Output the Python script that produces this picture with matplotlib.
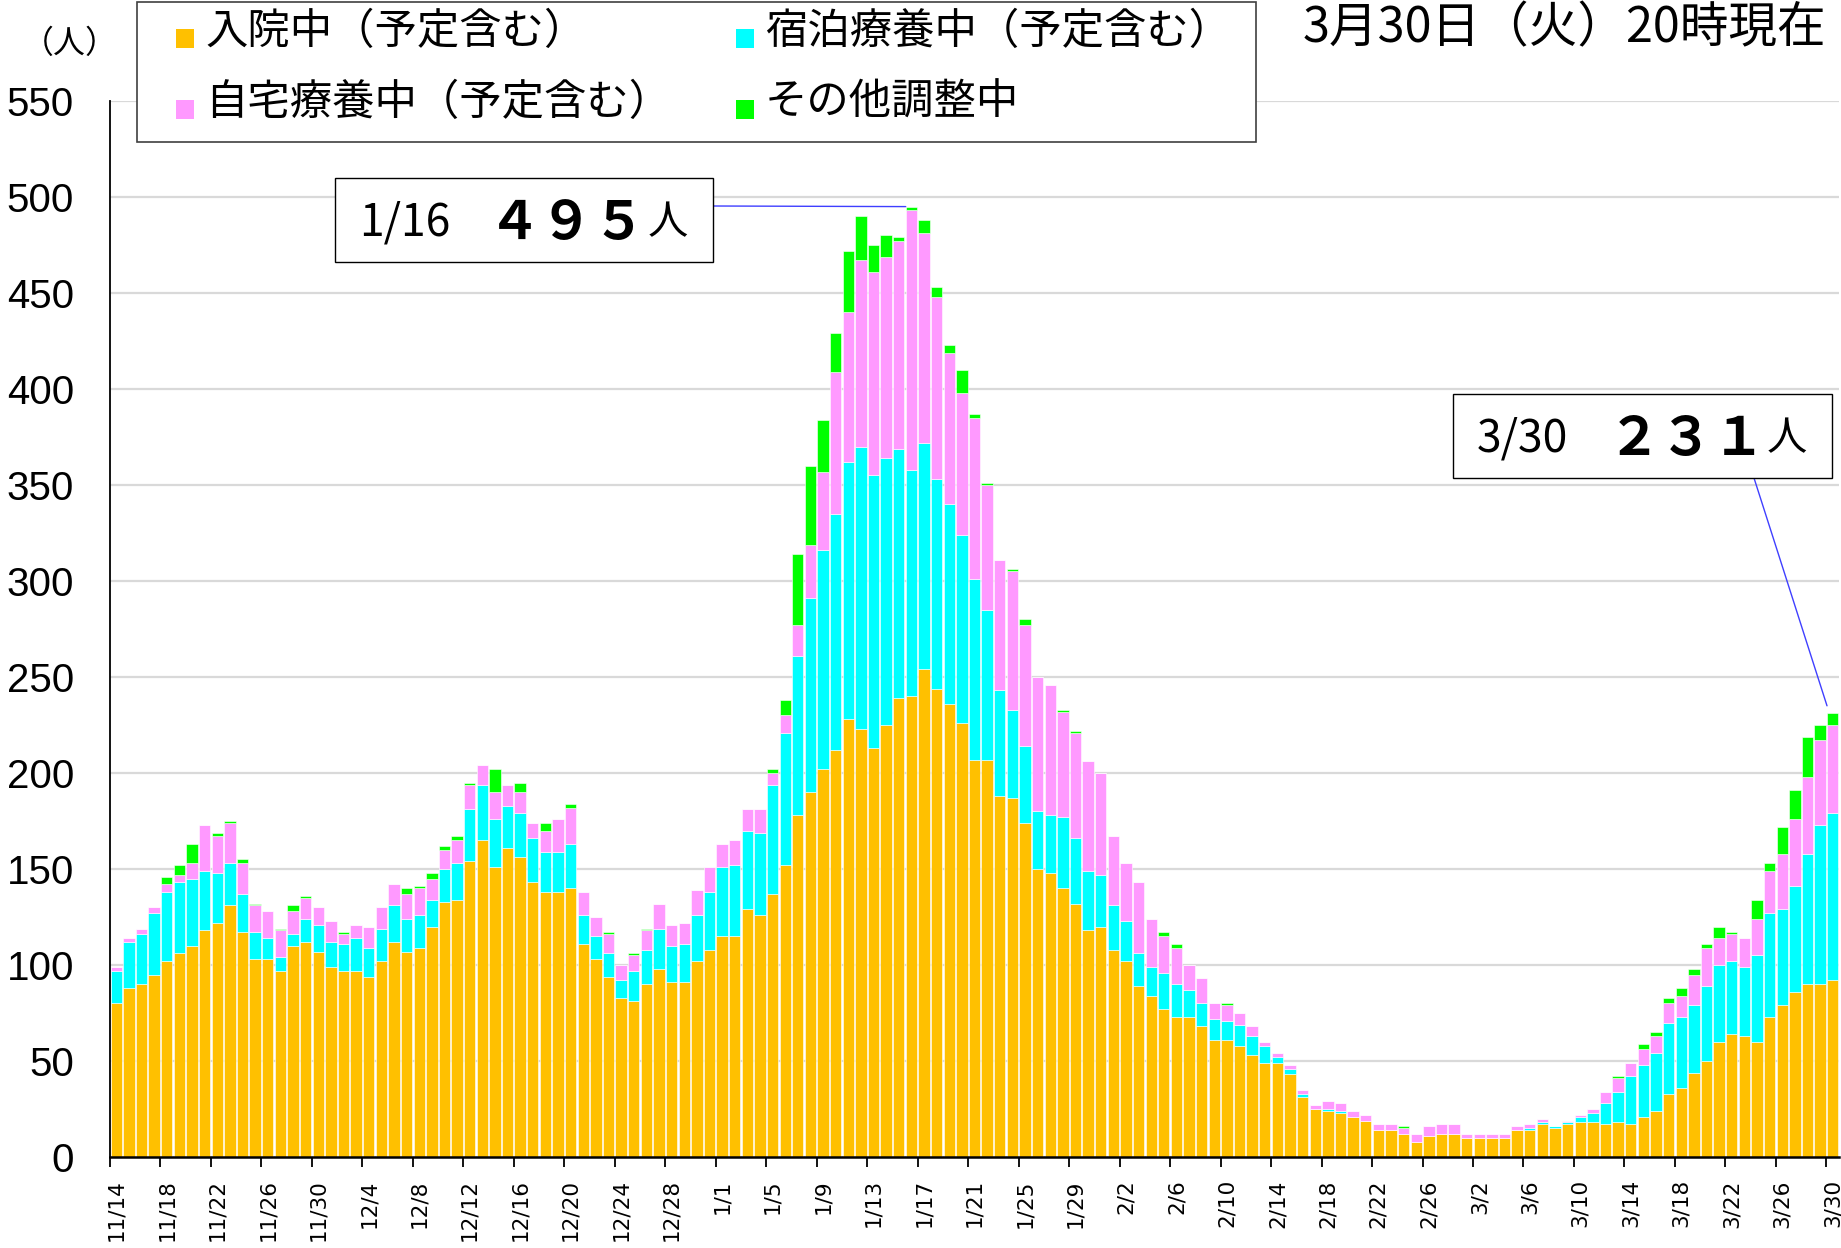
import matplotlib
matplotlib.use('Agg')
import matplotlib.pyplot as plt
from matplotlib.patches import Rectangle
import numpy as np
import pandas as pd

# 11/14 - 3/30 の日次データ
days = pd.date_range('2020-11-14', '2021-03-30', freq='D')
day_labels = [f'{d.month}/{d.day}' for d in days]

# 入院中（予定含む）
hospital = [
    80, 88, 90, 95, 102, 106, 110, 118, 122, 131, 117, 103, 103, 97, 110, 112, 107,
    99, 97, 97, 94, 102, 112, 107, 109, 120, 133, 134, 154, 165, 151, 161, 156, 143,
    138, 138, 140, 111, 103, 94, 83, 81, 90, 98, 91, 91, 102, 108,
    115, 115, 129, 126, 137, 152, 178, 190, 202, 212, 228, 223, 213, 225, 239, 240,
    254, 244, 236, 226, 207, 207, 188, 187, 174, 150, 148, 140, 132, 118, 120,
    108, 102, 89, 84, 77, 73, 73, 68, 61, 61, 58, 53, 49, 49, 43, 31, 25, 24, 23,
    21, 19, 14, 14, 12, 8, 11, 12, 12,
    10, 10, 10, 10, 14, 14, 17, 15, 17, 18, 18, 17, 18, 17, 21, 24, 33, 36, 44, 50,
    60, 64, 63, 60, 73, 79, 86, 90, 90, 92]
# 宿泊療養中（予定含む）
hotel = [
    17, 24, 26, 32, 36, 37, 35, 31, 26, 22, 20, 14, 11, 7, 6, 12, 14,
    13, 14, 17, 15, 17, 19, 17, 17, 14, 17, 19, 27, 29, 25, 22, 23, 23,
    21, 21, 23, 15, 12, 12, 9, 16, 18, 21, 19, 20, 24, 30,
    36, 37, 41, 43, 57, 69, 83, 101, 114, 123, 134, 147, 142, 139, 130, 118,
    118, 109, 104, 98, 94, 78, 55, 46, 40, 30, 30, 37, 34, 31, 27,
    23, 21, 17, 15, 19, 17, 14, 12, 11, 10, 11, 10, 9, 3, 3, 2, 0, 1, 1,
    0, 0, 0, 0, 0, 0, 0, 0, 0,
    0, 0, 0, 0, 0, 1, 1, 1, 1, 3, 5, 11, 16, 25, 27, 30, 37, 37, 35, 39,
    40, 38, 36, 45, 54, 50, 55, 68, 83, 87]
# 自宅療養中（予定含む）
home = [
    2, 2, 3, 3, 4, 4, 8, 24, 19, 21, 16, 14, 14, 14, 12, 11, 9,
    11, 5, 7, 11, 11, 11, 13, 14, 11, 10, 12, 13, 10, 14, 11, 11, 8,
    11, 17, 19, 12, 10, 10, 8, 8, 10, 13, 11, 11, 13, 13,
    12, 13, 11, 12, 6, 9, 16, 28, 41, 74, 78, 97, 106, 105, 108, 135,
    109, 95, 79, 74, 84, 65, 68, 72, 63, 70, 68, 55, 55, 57, 53,
    36, 30, 37, 25, 19, 19, 13, 13, 8, 8, 6, 5, 2, 2, 2, 2, 2, 4, 4,
    3, 3, 3, 3, 3, 4, 5, 5, 5,
    2, 2, 2, 2, 2, 2, 2, 0, 1, 1, 2, 6, 7, 7, 8, 9, 10, 11, 16, 20,
    14, 14, 15, 19, 22, 29, 35, 40, 44, 46]
# その他調整中
other = [
    0, 0, 0, 0, 4, 5, 10, 0, 2, 1, 2, 1, 0, 1, 3, 1, 0,
    0, 1, 0, 0, 0, 0, 3, 1, 3, 2, 2, 1, 0, 12, 0, 5, 0,
    4, 0, 2, 0, 0, 1, 0, 1, 1, 0, 0, 0, 0, 0,
    0, 0, 0, 0, 2, 8, 37, 41, 27, 20, 32, 23, 14, 11, 2, 2,
    7, 5, 4, 12, 2, 1, 0, 1, 3, 0, 0, 1, 1, 0, 0,
    0, 0, 0, 0, 2, 2, 0, 0, 0, 1, 0, 0, 0, 0, 0, 0, 0, 0, 0,
    0, 0, 0, 0, 1, 0, 0, 0, 0,
    0, 0, 0, 0, 0, 0, 0, 0, 0, 0, 0, 0, 1, 0, 3, 2, 3, 4, 3, 2,
    6, 1, 0, 10, 4, 14, 15, 21, 8, 6]

series_names = ['入院中（予定含む）', '宿泊療養中（予定含む）', '自宅療養中（予定含む）', 'その他調整中']
series_colors = ['#FFC000', '#00FFFF', '#FF99FF', '#00FF00']

W, H = 1841, 1248
JP = ['Noto Sans CJK JP', 'DejaVu Sans']
NUM = ['Liberation Sans Narrow', 'Liberation Sans', 'DejaVu Sans']


def fx(x):
    return x / W


def fy(y):
    return 1 - y / H


fig = plt.figure(figsize=(W / 100, H / 100), dpi=100)
ax = fig.add_axes([fx(110), 1 - 1157 / H, (1839 - 110) / W, (1157 - 101) / H])

x = np.arange(len(days))
bottom = np.zeros(len(days))
for vals, col, name in zip([hospital, hotel, home, other], series_colors, series_names):
    vals = np.array(vals, dtype=float)
    ax.bar(x, vals, bottom=bottom, width=0.9, color=col, edgecolor='white',
           linewidth=0.4, label=name, zorder=2)
    bottom += vals

ax.set_xlim(-0.5, len(days) - 0.5)
ax.set_ylim(0, 550)
ax.set_yticks(np.arange(0, 551, 50))
ax.yaxis.grid(True, color='#d9d9d9', linewidth=1.6, zorder=0)
ax.set_axisbelow(True)
for s in ['top', 'right']:
    ax.spines[s].set_visible(False)
ax.spines['left'].set_linewidth(1.3)
ax.spines['bottom'].set_linewidth(1.8)
ax.tick_params(axis='y', length=0, pad=26)
for t in ax.get_yticklabels():
    t.set_family(NUM)
    t.set_fontsize(29)

# 目盛線は4日ごとの境界、ラベルは棒の中心
ax.set_xticks(np.arange(-0.5, len(days), 4))
ax.set_xticklabels([])
ax.tick_params(axis='x', which='major', length=7, width=1.3, direction='out')
ax.set_xticks(x[::4], minor=True)
ax.set_xticklabels(day_labels[::4], minor=True, rotation=90, va='top', ha='center',
                   fontsize=15.5, family='DejaVu Sans')
ax.tick_params(axis='x', which='minor', length=0, pad=16)

# 凡例（枠＋色見本＋文字）
fig.add_artist(Rectangle((fx(137), fy(142)), (1256 - 137) / W, 140 / H,
                         transform=fig.transFigure, facecolor='white',
                         edgecolor='#404040', linewidth=1.2, zorder=5))
legend_pos = [(176, 205, 32), (736, 765, 32), (176, 205, 103), (736, 765, 103)]
for (mx, tx, ty), col, name in zip(legend_pos, series_colors, series_names):
    fig.add_artist(Rectangle((fx(mx), fy(ty + 16)), 18 / W, 19 / H,
                             transform=fig.transFigure, facecolor=col,
                             edgecolor='none', zorder=6))
    fig.text(fx(tx), fy(ty), name, family=JP, fontsize=30.5, va='center', ha='left', zorder=6)

fig.text(fx(1826), fy(29), '3月30日（火）20時現在', family=JP, fontsize=35,
         ha='right', va='center')
fig.text(fx(70), fy(44), '（人）', family=JP, fontsize=23, ha='center', va='center')


def callout(box, texts, xy, start):
    x0, y0, x1, y1 = box
    fig.add_artist(Rectangle((fx(x0), fy(y1)), (x1 - x0) / W, (y1 - y0) / H,
                             transform=fig.transFigure, facecolor='white',
                             edgecolor='black', linewidth=1.0, zorder=5))
    yc = (y0 + y1) / 2 + 3
    for tx, s, size, weight in texts:
        fig.text(fx(tx), fy(yc), s, family=JP, fontsize=size, fontweight=weight,
                 ha='left', va='center', zorder=6)
    ax.annotate('', xy=xy, xycoords='data', xytext=(start[0], H - start[1]),
                textcoords='figure pixels',
                arrowprops=dict(arrowstyle='-', color='#3f3fff', lw=1.0,
                                shrinkA=0, shrinkB=0), zorder=4)


peak_i = int(np.argmax(bottom))
callout((335, 178, 713, 262),
        [(359, '1/16', 32, 'normal'), (488, '４９５', 38, 'bold'), (648, '人', 29, 'normal')],
        (peak_i - 0.45, bottom[peak_i]), (713, 206))
last_i = len(days) - 1
callout((1453, 394, 1832, 478),
        [(1477, '3/30', 32, 'normal'), (1608, '２３１', 38, 'bold'), (1767, '人', 29, 'normal')],
        (last_i - 0.45, bottom[last_i] + 4), (1754, 478))

fig.savefig('out.png', dpi=100)
